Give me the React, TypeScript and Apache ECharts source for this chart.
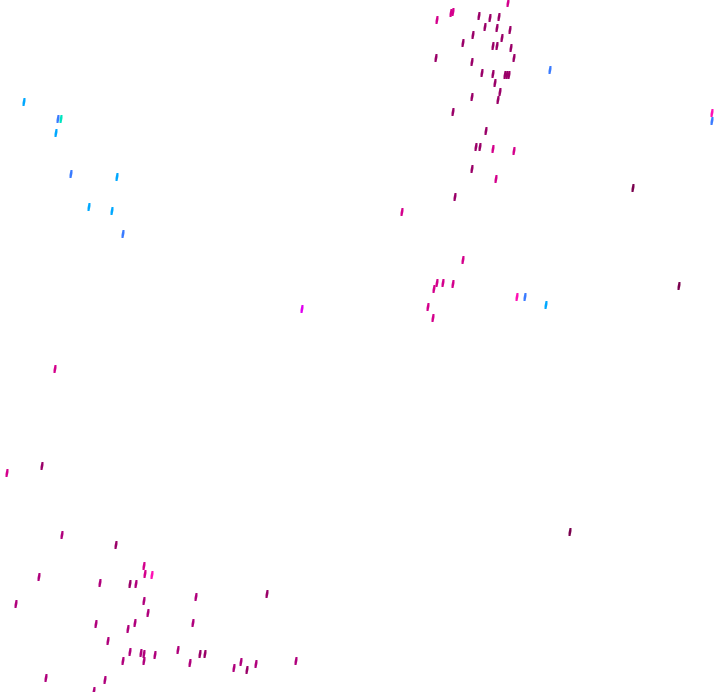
import React, { useEffect, useRef } from "react";
import * as echarts from "echarts";

// horizontal position (0-720), vertical position (0-692, from top), colour level
const xs = [
  508, 437, 451, 453, 479, 490, 499, 485, 497, 510, 473, 502, 463, 493, 497, 511, 436, 472, 514, 482,
  493, 505, 509, 495, 500, 472, 498, 453, 486, 476, 480, 493, 514, 472, 496, 455, 402, 463, 437, 443,
  453, 434, 517, 525, 546, 302, 428, 433, 712, 712, 633, 679, 570, 550, 507,
  24, 58, 61, 56, 71, 117, 89, 112, 123,
  55, 42, 7, 62,
  116, 144, 145, 152, 39, 100, 130, 136, 16, 144, 196, 267, 148, 96, 135, 193, 128, 108, 130, 141,
  144, 155, 178, 200, 205, 123, 144, 190, 241, 256, 296, 234, 247, 46, 105, 94,
];
const ys = [
  3, 20, 13, 12, 16, 18, 17, 27, 28, 30, 35, 38, 43, 46, 46, 48, 58, 62, 58, 73,
  74, 75, 75, 83, 92, 97, 100, 112, 131, 147, 147, 149, 151, 169, 179, 197, 212, 260, 283, 283,
  284, 289, 297, 297, 305, 309, 307, 318, 113, 121, 188, 286, 532, 70, 75,
  102, 119, 119, 133, 174, 177, 207, 211, 234,
  369, 466, 473, 535,
  545, 566, 574, 575, 577, 583, 584, 584, 604, 601, 597, 594, 613, 624, 623, 623, 629, 641, 652, 653,
  654, 655, 650, 654, 654, 661, 661, 663, 662, 664, 661, 668, 670, 678, 680, 691,
];
const levels = [
  3, 3, 3, 3, 1, 1, 1, 1, 1, 1, 1, 1, 1, 1, 1, 1, 1, 1, 1, 1,
  1, 1, 1, 1, 1, 1, 1, 1, 1, 1, 1, 3, 3, 1, 3, 1, 3, 3, 3, 3,
  3, 3, 4, 6, 7, 5, 3, 3, 4, 6, 0, 0, 0, 6, 1,
  7, 6, 8, 7, 6, 7, 7, 7, 6,
  3, 1, 3, 2,
  1, 3, 3, 4, 2, 2, 1, 2, 2, 2, 2, 1, 2, 2, 2, 2, 2, 2, 2, 2,
  2, 2, 2, 1, 1, 2, 2, 2, 2, 2, 2, 2, 1, 2, 2, 2,
];
const levelColors = [
  "#7a004e", "#9a0068", "#b0007c", "#d4008c", "#ff10b4",
  "#e000f0", "#3a7bff", "#00a8ff", "#00e5c0",
];

export default function App() {
  const ref = useRef<HTMLDivElement>(null);
  useEffect(() => {
    document.body.style.margin = "0";
    const chart = echarts.init(ref.current!, null, { renderer: "svg" });
    const data = xs.map((x, i) => [x, ys[i], levels[i]]);
    chart.setOption({
      animation: false,
      backgroundColor: "#ffffff",
      grid: { left: 0, right: 0, top: 0, bottom: 0 },
      xAxis: { type: "value", min: 0, max: 720, show: false },
      yAxis: { type: "value", min: 0, max: 692, inverse: true, show: false },
      visualMap: {
        type: "piecewise",
        show: false,
        dimension: 2,
        pieces: levelColors.map((c, i) => ({ value: i, color: c })),
      },
      series: [
        {
          type: "scatter",
          data,
          symbol: "path://M1,0 L3,0 L3,3 L2,8 L0,8 L0,5 Z",
          symbolSize: [3, 8],
          itemStyle: { opacity: 1 },
        },
      ],
    });
    return () => chart.dispose();
  }, []);
  return <div ref={ref} style={{ width: 720, height: 692 }} />;
}
